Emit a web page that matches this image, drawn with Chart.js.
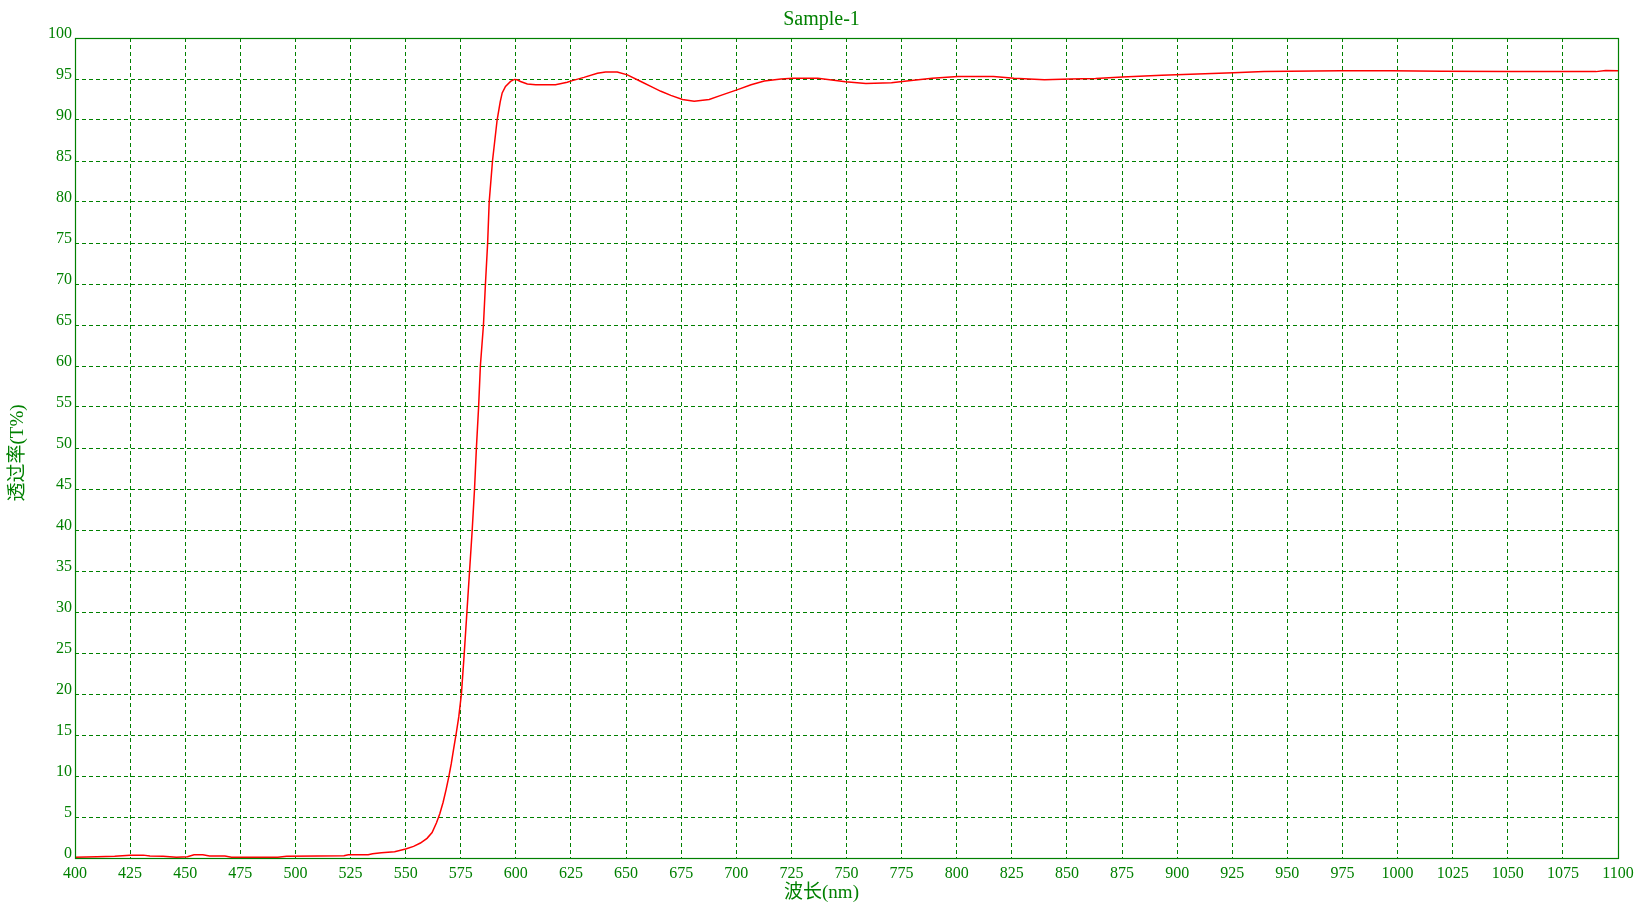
<!DOCTYPE html>
<html>
<head>
<meta charset="utf-8">
<script src="https://cdn.jsdelivr.net/npm/chart.js@4/dist/chart.umd.min.js"></script>
<style>
  html, body { margin: 0; padding: 0; background: #ffffff; overflow: hidden; }
  canvas { display: block; }
</style>
</head>
<body>
<canvas id="c" width="1643" height="904"></canvas>
<script>
const chartTitle = "Sample-1";
const xAxisTitle = "波长(nm)";
const yAxisTitle = "透过率(T%)";
const xTickStart = 400, xTickEnd = 1100, xTickStep = 25;
const yTickStart = 0, yTickEnd = 100, yTickStep = 5;

const wavelength = [
  400, 410, 418, 425, 431, 434, 440, 446, 451, 454, 458, 461, 468, 471, 492, 496,
  510, 522, 524, 533, 535, 539, 545, 550, 553.6, 556.7, 559.7, 562, 564, 565.5,
  567, 568.4, 569.5, 570.7, 571.7, 573, 574.1, 575.3, 576.6, 577.8, 579, 580.2,
  581.25, 582.1, 583.1, 583.9, 585.3, 586.2, 587.2, 587.9, 589.4, 591.5, 592.9,
  593.8, 595.3, 597.6, 599.3, 600.6, 602.1, 605.2, 609, 618, 623.3, 625.6, 630.9,
  637, 640.7, 646, 650.6, 656.7, 661.2, 665.8, 670.3, 675.6, 680.9, 687.7, 693,
  700.6, 706.7, 712.7, 720.3, 725.6, 737, 746, 749.5, 758.8, 770.4, 777.3, 788.9,
  800.5, 816.7, 826, 839.8, 851.4, 863, 875.2, 893, 909.3, 925.5, 939.4, 951,
  974, 997, 1020, 1050.5, 1078, 1090, 1094.4, 1100
];
const transmittance = [
  0.1, 0.15, 0.2, 0.35, 0.35, 0.25, 0.2, 0.1, 0.15, 0.4, 0.4, 0.25, 0.25, 0.1, 0.1, 0.2,
  0.25, 0.28, 0.4, 0.4, 0.53, 0.65, 0.77, 1.1, 1.42, 1.83, 2.4, 3.1, 4.3, 5.4,
  6.8, 8.4, 9.8, 11.5, 13.2, 15.3, 17.2, 20, 25, 30, 35, 40,
  45, 50, 55, 60, 65, 70, 75, 80, 85, 90, 92.2,
  93.3, 94.1, 94.7, 94.95, 94.9, 94.7, 94.4, 94.3, 94.3, 94.6, 94.8, 95.2,
  95.7, 95.85, 95.85, 95.5, 94.7, 94.1, 93.5, 93.0, 92.5, 92.3, 92.5, 93.0,
  93.7, 94.3, 94.75, 95.0, 95.1, 95.1, 94.8, 94.67, 94.45, 94.55, 94.75, 95.1,
  95.3, 95.3, 95.1, 94.9, 95.0, 95.05, 95.25, 95.45, 95.6, 95.75, 95.9, 95.95,
  96.0, 96.0, 95.95, 95.9, 95.9, 95.9, 96.05, 96.0
];

const GREEN = '#008000';
const SERIF = '"Liberation Serif", "Times New Roman", serif';
const CJK = '"Liberation Serif", "Noto Sans CJK SC", serif';

const points = wavelength.map((w, i) => ({ x: w, y: transmittance[i] }));

const decor = {
  id: 'decor',
  afterDatasetsDraw(chart) {
    const { ctx, chartArea: a } = chart;
    ctx.save();
    ctx.strokeStyle = GREEN;
    ctx.lineWidth = 1.2;
    ctx.setLineDash([]);
    ctx.strokeRect(Math.round(a.left) + 0.5, Math.round(a.top) + 0.5,
                   Math.round(a.right - a.left), Math.round(a.bottom - a.top));
    ctx.restore();
  },
  afterDraw(chart) {
    const { ctx } = chart;
    ctx.save();
    ctx.fillStyle = GREEN;
    ctx.textAlign = 'center';
    ctx.textBaseline = 'middle';
    ctx.font = '20px ' + SERIF;
    ctx.fillText(chartTitle, chart.width / 2, 20);
    ctx.font = '19px ' + CJK;
    ctx.fillText(xAxisTitle, chart.width / 2, 893);
    ctx.translate(18, 453);
    ctx.rotate(-Math.PI / 2);
    ctx.fillText(yAxisTitle, 0, 0);
    ctx.restore();
  }
};

new Chart(document.getElementById('c'), {
  type: 'line',
  data: {
    datasets: [{
      data: points,
      borderColor: '#ff0000',
      borderWidth: 1.5,
      pointRadius: 0,
      tension: 0,
      fill: false
    }]
  },
  options: {
    responsive: false,
    animation: false,
    layout: { padding: { top: 38, right: 25, bottom: 0, left: 0 } },
    plugins: { legend: { display: false }, title: { display: false }, tooltip: { enabled: false } },
    scales: {
      x: {
        type: 'linear',
        min: xTickStart, max: xTickEnd,
        afterFit(s) { s.height = 46; },
        grid: { color: GREEN, lineWidth: 1, drawTicks: false },
        border: { display: false, dash: [4, 3] },
        ticks: {
          stepSize: xTickStep, autoSkip: false, maxRotation: 0, padding: 6,
          color: GREEN, font: { family: SERIF, size: 16 },
          callback: v => String(v)
        }
      },
      y: {
        type: 'linear',
        min: yTickStart, max: yTickEnd,
        afterFit(s) { s.width = 75; },
        grid: { color: GREEN, lineWidth: 1, drawTicks: false },
        border: { display: false, dash: [4, 3] },
        ticks: {
          stepSize: yTickStep, autoSkip: false, padding: 3, labelOffset: -4,
          color: GREEN, font: { family: SERIF, size: 16 },
          callback: v => String(v)
        }
      }
    }
  },
  plugins: [decor]
});
</script>
</body>
</html>
